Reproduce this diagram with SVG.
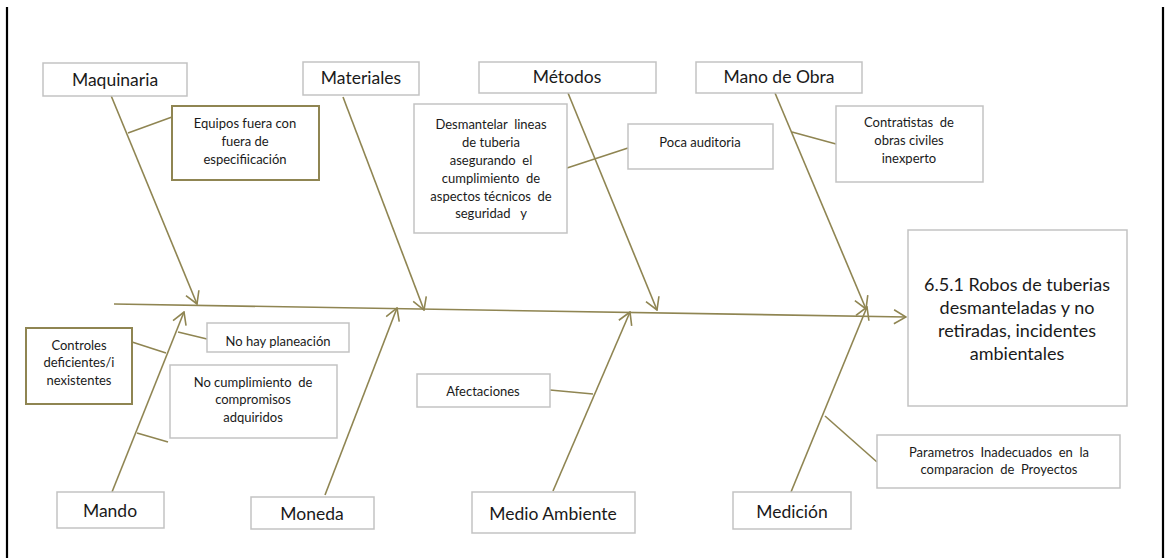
<svg xmlns="http://www.w3.org/2000/svg" width="1165" height="558" viewBox="0 0 1165 558">
  <style>
    .cat { fill: #ffffff; stroke: #c3c3c3; stroke-width: 1.5; }
    .cause { fill: #ffffff; stroke: #c3c3c3; stroke-width: 1.5; }
    .cause-olive { fill: #ffffff; stroke: #8f8552; stroke-width: 2; }
    .bone { stroke: #8f8552; stroke-width: 1.6; fill: none; }
    .twig { stroke: #8f8552; stroke-width: 1.6; fill: none; }
    .t-cat { font-family: Lato, "Liberation Sans", sans-serif; font-size: 17.5px; fill: #1a1a1a; text-anchor: middle; }
    .t-cause { font-family: Lato, "Liberation Sans", sans-serif; font-size: 13px; fill: #1a1a1a; text-anchor: middle; white-space: pre; }
    .t-main { font-family: Lato, "Liberation Sans", sans-serif; font-size: 18px; fill: #1a1a1a; text-anchor: middle; }
  </style>
  <defs>
    <marker id="arrow" markerUnits="userSpaceOnUse" viewBox="0 0 14 16" markerWidth="14" markerHeight="16" refX="13" refY="8" orient="auto">
      <path d="M1,1 L13,8 L1,15" fill="none" stroke="#8f8552" stroke-width="1.6"/>
    </marker>
  </defs>

  <rect width="1165" height="558" fill="#ffffff"/>
  <!-- page frame edges -->
  <line x1="7" y1="7" x2="7" y2="558" stroke="#000" stroke-width="2.2"/>
  <line x1="1163" y1="7" x2="1163" y2="558" stroke="#000" stroke-width="2.2"/>

  <!-- connectors: spine, category bones and cause twigs -->
  <g id="connectors">
    <line class="bone" x1="114" y1="304" x2="906" y2="317" marker-end="url(#arrow)"/>
    <line class="bone" x1="110" y1="93" x2="197" y2="304" marker-end="url(#arrow)"/>
    <line class="bone" x1="343" y1="97" x2="424" y2="310" marker-end="url(#arrow)"/>
    <line class="bone" x1="568" y1="93" x2="657" y2="310" marker-end="url(#arrow)"/>
    <line class="bone" x1="775" y1="93" x2="866" y2="309" marker-end="url(#arrow)"/>
    <line class="bone" x1="112" y1="492" x2="184" y2="312" marker-end="url(#arrow)"/>
    <line class="bone" x1="325" y1="495" x2="397" y2="308" marker-end="url(#arrow)"/>
    <line class="bone" x1="553" y1="491" x2="630" y2="312" marker-end="url(#arrow)"/>
    <line class="bone" x1="791" y1="492" x2="867" y2="307" marker-end="url(#arrow)"/>

    <line class="twig" x1="128" y1="133" x2="172" y2="117"/>
    <line class="twig" x1="567" y1="168" x2="628" y2="148"/>
    <line class="twig" x1="792" y1="132" x2="836" y2="144"/>
    <line class="twig" x1="132" y1="342" x2="166" y2="353"/>
    <line class="twig" x1="178" y1="332" x2="207" y2="339"/>
    <line class="twig" x1="137" y1="433" x2="168" y2="442"/>
    <line class="twig" x1="550" y1="390" x2="593" y2="394"/>
    <line class="twig" x1="825" y1="416" x2="877" y2="462"/>
  </g>

  <!-- effect -->
  <g id="effect">
    <rect class="cat" x="908" y="230" width="219" height="176"/>
    <text class="t-main" x="1017" y="291">6.5.1 Robos de tuberias</text>
    <text class="t-main" x="1017" y="314">desmanteladas y no</text>
    <text class="t-main" x="1017" y="337">retiradas, incidentes</text>
    <text class="t-main" x="1017" y="360">ambientales</text>
  </g>

  <!-- categories -->
  <g id="cat-maquinaria">
    <rect class="cat" x="43" y="63" width="144" height="33"/>
    <text class="t-cat" x="115" y="86">Maquinaria</text>
  </g>
  <g id="cat-materiales">
    <rect class="cat" x="303" y="62" width="116" height="33"/>
    <text class="t-cat" x="361" y="84">Materiales</text>
  </g>
  <g id="cat-metodos">
    <rect class="cat" x="479" y="62" width="177" height="31"/>
    <text class="t-cat" x="567" y="83">Métodos</text>
  </g>
  <g id="cat-mano-obra">
    <rect class="cat" x="696" y="62" width="166" height="31"/>
    <text class="t-cat" x="779" y="83">Mano de Obra</text>
  </g>
  <g id="cat-mando">
    <rect class="cat" x="57" y="492" width="107" height="36"/>
    <text class="t-cat" x="110" y="517">Mando</text>
  </g>
  <g id="cat-moneda">
    <rect class="cat" x="251" y="497" width="123" height="32"/>
    <text class="t-cat" x="312" y="520">Moneda</text>
  </g>
  <g id="cat-medio-ambiente">
    <rect class="cat" x="472" y="492" width="163" height="41"/>
    <text class="t-cat" x="553" y="520">Medio Ambiente</text>
  </g>
  <g id="cat-medicion">
    <rect class="cat" x="733" y="492" width="118" height="37"/>
    <text class="t-cat" x="792" y="518">Medición</text>
  </g>

  <!-- causes -->
  <g id="cause-equipos">
    <rect class="cause-olive" x="172" y="106" width="147" height="74"/>
    <text class="t-cause" x="245" y="128">Equipos fuera con</text>
    <text class="t-cause" x="245" y="146">fuera de</text>
    <text class="t-cause" x="245" y="164">especifiicación</text>
  </g>
  <g id="cause-desmantelar">
    <rect class="cause" x="414" y="104" width="153" height="129"/>
    <text class="t-cause" x="491" y="129">Desmantelar  lineas</text>
    <text class="t-cause" x="491" y="147">de tuberia</text>
    <text class="t-cause" x="491" y="165">asegurando  el</text>
    <text class="t-cause" x="491" y="183">cumplimiento  de</text>
    <text class="t-cause" x="491" y="201">aspectos técnicos  de</text>
    <text class="t-cause" x="491" y="218">seguridad   y</text>
  </g>
  <g id="cause-poca-auditoria">
    <rect class="cause" x="628" y="124" width="145" height="45"/>
    <text class="t-cause" x="700" y="147">Poca auditoria</text>
  </g>
  <g id="cause-contratistas">
    <rect class="cause" x="836" y="106" width="147" height="76"/>
    <text class="t-cause" x="909" y="127">Contratistas  de</text>
    <text class="t-cause" x="909" y="145">obras civiles</text>
    <text class="t-cause" x="909" y="163">inexperto</text>
  </g>
  <g id="cause-controles">
    <rect class="cause-olive" x="26" y="328" width="106" height="76"/>
    <text class="t-cause" x="79" y="350">Controles</text>
    <text class="t-cause" x="79" y="367">deficientes/i</text>
    <text class="t-cause" x="79" y="385">nexistentes</text>
  </g>
  <g id="cause-planeacion">
    <rect class="cause" x="207" y="323" width="142" height="29"/>
    <text class="t-cause" x="278" y="346">No hay planeación</text>
  </g>
  <g id="cause-compromisos">
    <rect class="cause" x="170" y="365" width="167" height="73"/>
    <text class="t-cause" x="253" y="387">No cumplimiento  de</text>
    <text class="t-cause" x="253" y="404">compromisos</text>
    <text class="t-cause" x="253" y="422">adquiridos</text>
  </g>
  <g id="cause-afectaciones">
    <rect class="cause" x="417" y="374" width="133" height="33"/>
    <text class="t-cause" x="483" y="396">Afectaciones</text>
  </g>
  <g id="cause-parametros">
    <rect class="cause" x="877" y="435" width="243" height="53"/>
    <text class="t-cause" x="999" y="457">Parametros  Inadecuados  en  la</text>
    <text class="t-cause" x="999" y="474">comparacion  de  Proyectos</text>
  </g>
</svg>
